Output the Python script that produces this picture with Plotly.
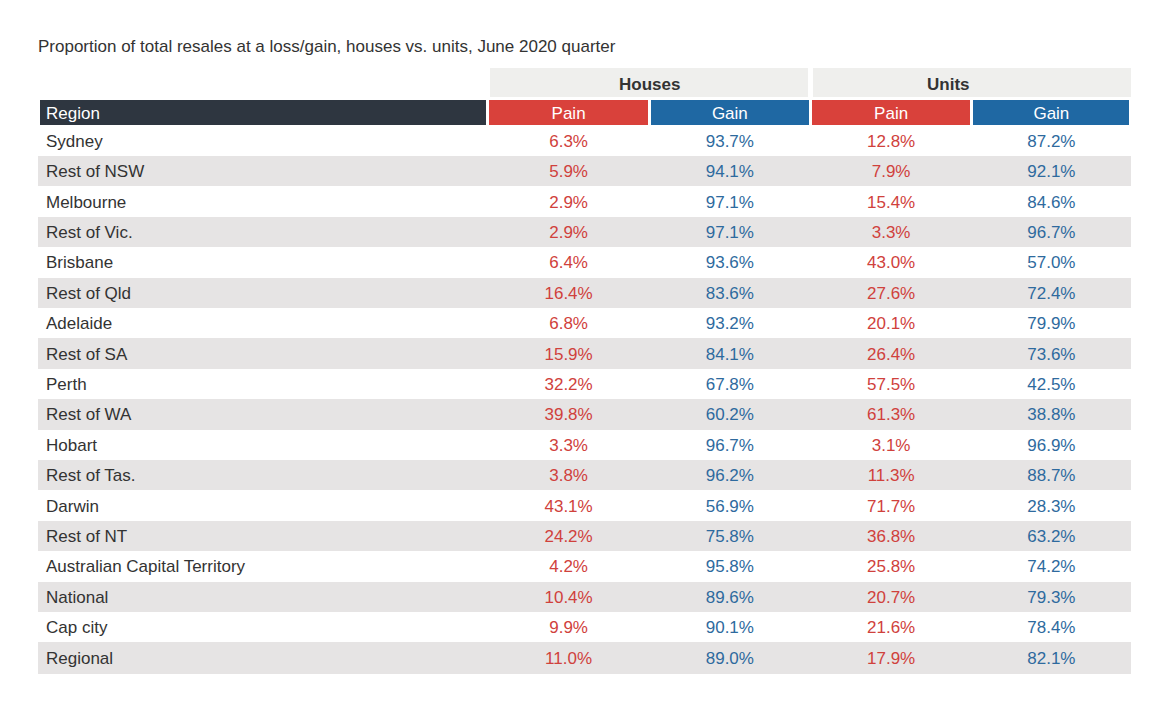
import plotly.graph_objects as go

regions = ["Sydney","Rest of NSW","Melbourne","Rest of Vic.","Brisbane","Rest of Qld","Adelaide","Rest of SA","Perth","Rest of WA","Hobart","Rest of Tas.","Darwin","Rest of NT","Australian Capital Territory","National","Cap city","Regional"]
houses_pain = [6.3,5.9,2.9,2.9,6.4,16.4,6.8,15.9,32.2,39.8,3.3,3.8,43.1,24.2,4.2,10.4,9.9,11.0]
houses_gain = [93.7,94.1,97.1,97.1,93.6,83.6,93.2,84.1,67.8,60.2,96.7,96.2,56.9,75.8,95.8,89.6,90.1,89.0]
units_pain = [12.8,7.9,15.4,3.3,43.0,27.6,20.1,26.4,57.5,61.3,3.1,11.3,71.7,36.8,25.8,20.7,21.6,17.9]
units_gain = [87.2,92.1,84.6,96.7,57.0,72.4,79.9,73.6,42.5,38.8,96.9,88.7,28.3,63.2,74.2,79.3,78.4,82.1]
header = ["Region","Pain","Gain","Pain","Gain"]
groups = ["Houses","Units"]

W, H = 1160, 704
OX, OY = 8, 8  # page offset
RED, BLUE, DARK = "#d9413b", "#1f68a3", "#2e3640"
row_fill = ["white" if i % 2 == 0 else "#e6e4e4" for i in range(len(regions))]
fmt = lambda v: [f"{x:.1f}%" for x in v]
px = lambda x: (x - OX) / W
py = lambda y: 1 - (y - OY) / H

fig = go.Figure(go.Table(
    domain=dict(x=[px(38), px(1131)], y=[py(678), py(98)]),
    columnwidth=[452, 162, 162, 162, 160],
    header=dict(values=header, fill_color=[DARK, RED, BLUE, RED, BLUE],
                font=dict(color="white", size=17, family="Liberation Sans"),
                align=["left", "center"], height=28,
                line=dict(color="white", width=3)),
    cells=dict(values=[regions, fmt(houses_pain), fmt(houses_gain), fmt(units_pain), fmt(units_gain)],
               fill_color=[row_fill]*5, line=dict(color=[row_fill]*5, width=1),
               font=dict(color=["#333333", "#d0413c", "#2e6a9e", "#d0413c", "#2e6a9e"], size=17,
                         family="Liberation Sans"),
               align=["left", "center"], height=30.4),
))
for g, (x0, x1) in zip(groups, [(490, 808), (813, 1131)]):
    fig.add_shape(type="rect", xref="paper", yref="paper", x0=px(x0), x1=px(x1),
                  y0=py(97), y1=py(68), fillcolor="#efefed", line_width=0, layer="below")
    fig.add_annotation(text=f"<b>{g}</b>", xref="paper", yref="paper", x=px((x0+x1)/2), y=py(73),
                       showarrow=False, font=dict(size=17, color="#333333", family="Liberation Sans"))
fig.add_annotation(text="Proportion of total resales at a loss/gain, houses vs. units, June 2020 quarter",
                   xref="paper", yref="paper", x=px(36), y=py(35), xanchor="left", showarrow=False,
                   font=dict(size=17, color="#333333", family="Liberation Sans"))
fig.update_layout(width=W, height=H, margin=dict(l=0, r=0, t=0, b=0), paper_bgcolor="white")
fig.write_html("out.html")
